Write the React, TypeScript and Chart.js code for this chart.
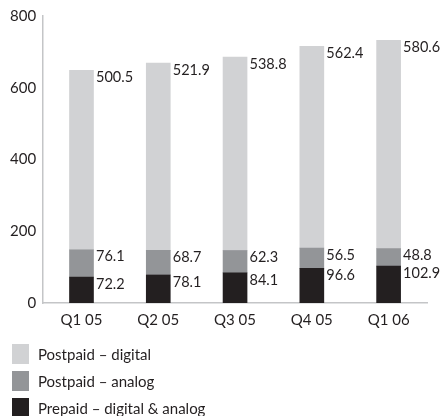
import React, { useEffect, useRef } from "react";
import { Chart, registerables } from "chart.js";

Chart.register(...registerables);

const categories = ["Q1 05", "Q2 05", "Q3 05", "Q4 05", "Q1 06"];
const prepaid = [72.2, 78.1, 84.1, 96.6, 102.9];
const postpaidAnalog = [76.1, 68.7, 62.3, 56.5, 48.8];
const postpaidDigital = [500.5, 521.9, 538.8, 562.4, 580.6];
const seriesLabels = ["Prepaid – digital & analog", "Postpaid – analog", "Postpaid – digital"];
const seriesColors = ["#231f20", "#939598", "#d1d2d4"];
const yTicks = [0, 200, 400, 600, 800];

const FONT = "Lato, 'DejaVu Sans Condensed', sans-serif";
const TEXT = "#231f20";

const valueLabels = {
  id: "valueLabels",
  afterDatasetsDraw(chart: any) {
    const ctx = chart.ctx;
    ctx.save();
    ctx.font = `14.5px ${FONT}`;
    ctx.fillStyle = TEXT;
    ctx.textAlign = "left";
    ctx.textBaseline = "middle";
    chart.data.datasets.forEach((ds: any, i: number) => {
      const meta = chart.getDatasetMeta(i);
      meta.data.forEach((el: any, j: number) => {
        const v = ds.data[j];
        ctx.fillText(v.toFixed(1), el.x + el.width / 2 + 2.5, el.y + 7);
      });
    });
    ctx.restore();
  },
};

const stackedLegend = {
  id: "stackedLegend",
  afterDraw(chart: any) {
    const ctx = chart.ctx;
    const top = chart.chartArea.bottom + 41;
    const ds = chart.data.datasets.slice().reverse();
    ctx.save();
    ctx.font = `15px ${FONT}`;
    ctx.textAlign = "left";
    ctx.textBaseline = "middle";
    ds.forEach((d: any, i: number) => {
      const y = top + i * 27;
      ctx.fillStyle = d.backgroundColor;
      ctx.fillRect(12, y, 17, 20);
      ctx.fillStyle = TEXT;
      ctx.fillText(d.label, 38, y + 11);
    });
    ctx.restore();
  },
};

export default function App() {
  const ref = useRef<HTMLCanvasElement | null>(null);
  useEffect(() => {
    document.body.style.margin = "0";
    const chart = new Chart(ref.current as HTMLCanvasElement, {
      type: "bar",
      data: {
        labels: categories,
        datasets: [prepaid, postpaidAnalog, postpaidDigital].map((d, i) => ({
          label: seriesLabels[i],
          data: d,
          backgroundColor: seriesColors[i],
          barThickness: 24,
        })),
      },
      options: {
        animation: false,
        responsive: false,
        layout: { padding: { left: 3, right: 14, top: 8, bottom: 79 } },
        plugins: { legend: { display: false }, tooltip: { enabled: false } },
        scales: {
          x: {
            stacked: true,
            grid: { display: false, drawTicks: false },
            border: { display: true, color: "#c4c5c7", width: 1.5 },
            ticks: { color: TEXT, font: { family: FONT, size: 15 }, padding: 8 },
          },
          y: {
            stacked: true,
            min: 0,
            max: 800,
            afterBuildTicks: (axis: any) => {
              axis.ticks = yTicks.map((v) => ({ value: v }));
            },
            grid: { display: false, drawTicks: false },
            border: { display: true, color: "#c4c5c7", width: 1.5 },
            ticks: { color: TEXT, font: { family: FONT, size: 15 }, padding: 7 },
          },
        },
      },
      plugins: [valueLabels, stackedLegend],
    });
    return () => chart.destroy();
  }, []);
  return (
    <div style={{ width: 441, height: 416 }}>
      <canvas ref={ref} width={441} height={416} />
    </div>
  );
}
